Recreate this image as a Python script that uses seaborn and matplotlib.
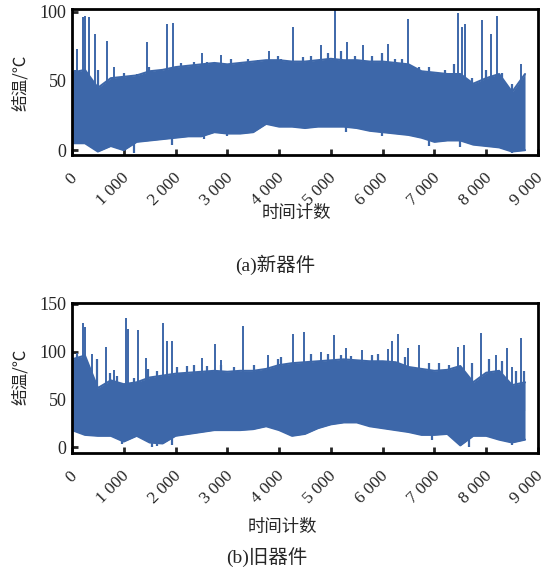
import matplotlib
matplotlib.use("Agg")
import matplotlib.pyplot as plt
import matplotlib.transforms as mtransforms
import seaborn as sns
import pandas as pd

# envelope of the dense junction-temperature trace, read every 250 h
hours = [0, 250, 500, 750, 1000, 1250, 1500, 1750, 2000, 2250, 2500, 2750,
         3000, 3250, 3500, 3750, 4000, 4250, 4500, 4750, 5000, 5250, 5500, 5750,
         6000, 6250, 6500, 6750, 7000, 7250, 7500, 7750, 8000, 8250, 8500, 8750]

new_upper = [56, 58, 45, 52, 53, 54, 57, 58, 60, 61, 62, 63,
             62, 63, 64, 65, 65, 64, 64, 65, 66, 65, 65, 64,
             64, 63, 62, 57, 56, 55, 55, 48, 52, 55, 42, 55]
new_lower = [5, 5, -1, 3, 0, 6, 7, 8, 9, 10, 10, 13,
             12, 12, 13, 19, 17, 17, 16, 17, 17, 17, 16, 14,
             13, 12, 11, 9, 6, 7, 7, 4, 3, 2, -1, 0]

old_upper = [92, 96, 62, 70, 66, 68, 73, 75, 77, 78, 79, 80,
             79, 80, 80, 82, 86, 88, 89, 90, 91, 92, 91, 90,
             90, 89, 84, 82, 80, 81, 85, 68, 78, 80, 65, 68]
old_lower = [18, 13, 12, 12, 6, 12, 5, 4, 12, 14, 16, 18,
             18, 18, 19, 22, 18, 12, 14, 20, 24, 26, 26, 22,
             20, 18, 16, 13, 13, 14, 2, 12, 12, 8, 5, 8]

# isolated peaks (hour, temperature)
new_spike_h = [100, 215, 260, 330, 447, 673, 815, 1450, 1838, 1955, 2518, 2874,
               3810, 4266, 4816, 5074, 5320, 5612, 6097, 6498, 7450, 7530, 7600,
               7922, 8097, 8214, 8680]
new_spike_v = [73, 96, 97, 96, 84, 79, 60, 78, 91, 92, 70, 69,
               72, 89, 76, 101, 78, 76, 77, 95, 99, 89, 91,
               94, 84, 97, 62]

old_spike_h = [100, 220, 250, 385, 660, 802, 1035, 1080, 1282, 1430, 1754, 1838,
               1934, 2518, 2764, 2887, 3307, 3780, 4266, 4480, 4816, 5062, 5301,
               5592, 6100, 6175, 6291, 6498, 6693, 7450, 7566, 7909, 8181, 8408,
               8505, 8667]
old_spike_v = [99, 130, 126, 98, 105, 81, 135, 124, 123, 93, 130, 111,
               111, 93, 108, 91, 127, 97, 119, 121, 100, 117, 104,
               102, 103, 111, 119, 104, 107, 105, 107, 120, 97, 104,
               84, 114]

# smaller bumps along the band edges (hour, temperature)
new_bump_h = [58, 511, 997, 1256, 1482, 1644, 2097, 2356, 2615, 3068, 3262, 3392,
              3586, 3974, 4039, 4460, 4621, 4945, 5204, 5463, 5786, 5981, 6239,
              6369, 6693, 6887, 7210, 7372, 7728, 7987, 8311, 8505]
new_bump_v = [58, 58, 56, 55, 60, 58, 63, 64, 64, 66, 64, 66,
              65, 68, 66, 67, 68, 70, 72, 68, 68, 70, 66,
              66, 60, 60, 58, 62, 52, 58, 56, 48]
new_dip_h = [1190, 1940, 2550, 3000, 5300, 5980, 6900, 7100, 7500, 8505]
new_dip_v = [-2, 4, 8, 10, 13, 10, 3, 6, 2, -2]

old_bump_h = [91, 479, 738, 867, 1191, 1470, 1644, 2033, 2227, 2356, 2615, 2874,
              3133, 3521, 3974, 4039, 4621, 4945, 5204, 5398, 5786, 5916, 6434,
              6887, 7081, 7275, 7728, 8052, 8311, 8570, 8732]
old_bump_v = [97, 92, 78, 75, 72, 82, 80, 84, 85, 86, 85, 86,
              84, 86, 92, 95, 98, 98, 97, 96, 97, 98, 95,
              88, 88, 86, 88, 92, 90, 80, 80]
old_dip_h = [964, 1547, 1644, 1935, 6951, 7663, 8505]
old_dip_v = [3, 0, 1, 2, 8, 0, 2]

x_ticks = [0, 1000, 2000, 3000, 4000, 5000, 6000, 7000, 8000, 9000]
x_ticklabels = ["0", "1 000", "2 000", "3 000", "4 000", "5 000",
                "6 000", "7 000", "8 000", "9 000"]

sns.set_theme(style="ticks")
plt.rcParams['font.family'] = ['Liberation Serif', 'Noto Sans CJK SC', 'DejaVu Sans']
plt.rcParams['axes.unicode_minus'] = False

BLUE = "#3d67a9"
cjk = ['Noto Sans CJK SC', 'DejaVu Sans']
serif = ['Liberation Serif', 'DejaVu Serif']

fig = plt.figure(figsize=(5.47, 5.74), dpi=100)
ax1 = fig.add_axes([0.1316, 0.7300, 0.8519, 0.2543])
ax2 = fig.add_axes([0.1316, 0.2108, 0.8519, 0.2613])


def mid_at(upper, lower, pts):
    mid = pd.Series([(u + l) / 2 for u, l in zip(upper, lower)], index=hours)
    idx = sorted(set(hours) | set(pts))
    return mid.reindex(idx).interpolate(method="index").loc[pts].values


def draw(ax, upper, lower, sh, sv, bh, bv, dh, dv, ylim, yticks):
    df = pd.DataFrame({"h": hours, "up": upper, "lo": lower})
    ax.fill_between(df["h"], df["lo"], df["up"], color=BLUE, lw=0)
    sns.lineplot(data=df, x="h", y="up", ax=ax, color=BLUE, lw=1.5)
    sns.lineplot(data=df, x="h", y="lo", ax=ax, color=BLUE, lw=1.5)
    ax.vlines(bh, mid_at(upper, lower, bh), bv, color=BLUE, lw=1.6)
    ax.vlines(dh, mid_at(upper, lower, dh), dv, color=BLUE, lw=1.6)
    ax.vlines(sh, mid_at(upper, lower, sh), sv, color=BLUE, lw=1.4)
    ax.set_xlim(0, 9000)
    ax.set_ylim(*ylim)
    ax.set_xlabel("")
    ax.set_ylabel("")
    ax.tick_params(direction="in", length=4, width=2)
    ax.tick_params(axis="x", pad=15)
    ax.tick_params(axis="y", pad=4)
    ax.set_xticks(x_ticks)
    ax.set_xticklabels(x_ticklabels, rotation=45, ha="right", va="center",
                       rotation_mode="anchor", family=serif, fontsize=12.5)
    # nudge the slanted labels to the right, as in the original layout
    shift = mtransforms.ScaledTranslation(3 / 100, 0, fig.dpi_scale_trans)
    for tick in ax.xaxis.get_major_ticks():
        tick.label1.set_transform(tick.label1.get_transform() + shift)
    ax.set_yticks(yticks)
    ax.set_yticklabels([str(t) for t in yticks], family=serif, fontsize=13)
    for s in ax.spines.values():
        s.set_linewidth(2)
        s.set_color("black")


draw(ax1, new_upper, new_lower, new_spike_h, new_spike_v,
     new_bump_h, new_bump_v, new_dip_h, new_dip_v, (-3.5, 102), [0, 50, 100])
draw(ax2, old_upper, old_lower, old_spike_h, old_spike_v,
     old_bump_h, old_bump_v, old_dip_h, old_dip_v, (-6, 151), [0, 50, 100, 150])

fig.text(0.037, 0.855, "结温/℃", rotation=90, ha="center", va="center",
         family=cjk, fontsize=12)
fig.text(0.037, 0.343, "结温/℃", rotation=90, ha="center", va="center",
         family=cjk, fontsize=12)
fig.text(0.541, 0.629, "时间计数", ha="center", va="center", family=cjk, fontsize=12.5)
fig.text(0.516, 0.082, "时间计数", ha="center", va="center", family=cjk, fontsize=12.5)
fig.text(0.503, 0.538, "(a)新器件", ha="center", va="center",
         family=['Liberation Serif', 'Noto Sans CJK SC'], fontsize=14)
fig.text(0.488, 0.030, "(b)旧器件", ha="center", va="center",
         family=['Liberation Serif', 'Noto Sans CJK SC'], fontsize=14)

fig.savefig("out.png", dpi=100, facecolor="white")
